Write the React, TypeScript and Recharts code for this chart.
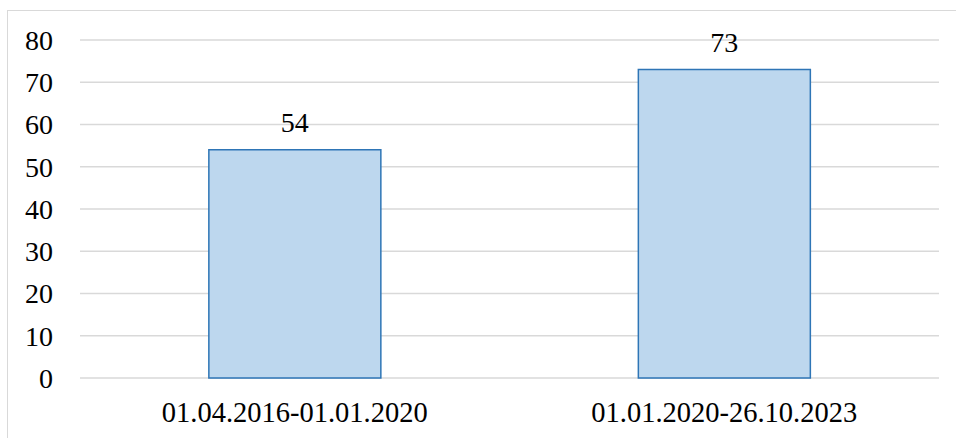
import React from "react";
import { BarChart, Bar, XAxis, YAxis, CartesianGrid, LabelList } from "recharts";

const categories = ["01.04.2016-01.01.2020", "01.01.2020-26.10.2023"];
const values = [54, 73];
const yTicks = [0, 10, 20, 30, 40, 50, 60, 70, 80];

const data = categories.map((c, i) => ({ name: c, value: values[i] }));

const font = "'Liberation Serif', 'Times New Roman', serif";

export default function App() {
  return (
    <div style={{ position: "absolute", left: 0, top: 0, width: 956, height: 438, background: "#fff", overflow: "hidden" }}>
      <div
        style={{
          position: "absolute",
          left: 7,
          top: 10,
          width: 970,
          height: 450,
          border: "1.5px solid #d9d9d9",
          boxSizing: "border-box",
        }}
      />
      <div style={{ position: "absolute", left: 0, top: 0 }}>
        <BarChart
          width={956}
          height={438}
          data={data}
          margin={{ top: 40, right: 17, bottom: 0, left: 0 }}
          barCategoryGap="30%"
        >
          <CartesianGrid horizontal vertical={false} stroke="#d9d9d9" strokeWidth={1.5} />
          <XAxis
            dataKey="name"
            height={60}
            axisLine={false}
            tickLine={false}
            tickSize={0}
            tickMargin={24}
            tick={{ fill: "#000", fontSize: 28.5, fontFamily: font }}
          />
          <YAxis
            width={80}
            domain={[0, 80]}
            ticks={yTicks}
            interval={0}
            axisLine={false}
            tickLine={false}
            tickSize={0}
            tickMargin={27}
            tick={{ fill: "#000", fontSize: 28, fontFamily: font }}
          />
          <Bar dataKey="value" fill="#bdd7ee" stroke="#2e75b6" strokeWidth={1.5} isAnimationActive={false}>
            <LabelList dataKey="value" position="top" offset={18} fill="#000" fontSize={28} fontFamily={font} />
          </Bar>
        </BarChart>
      </div>
    </div>
  );
}
